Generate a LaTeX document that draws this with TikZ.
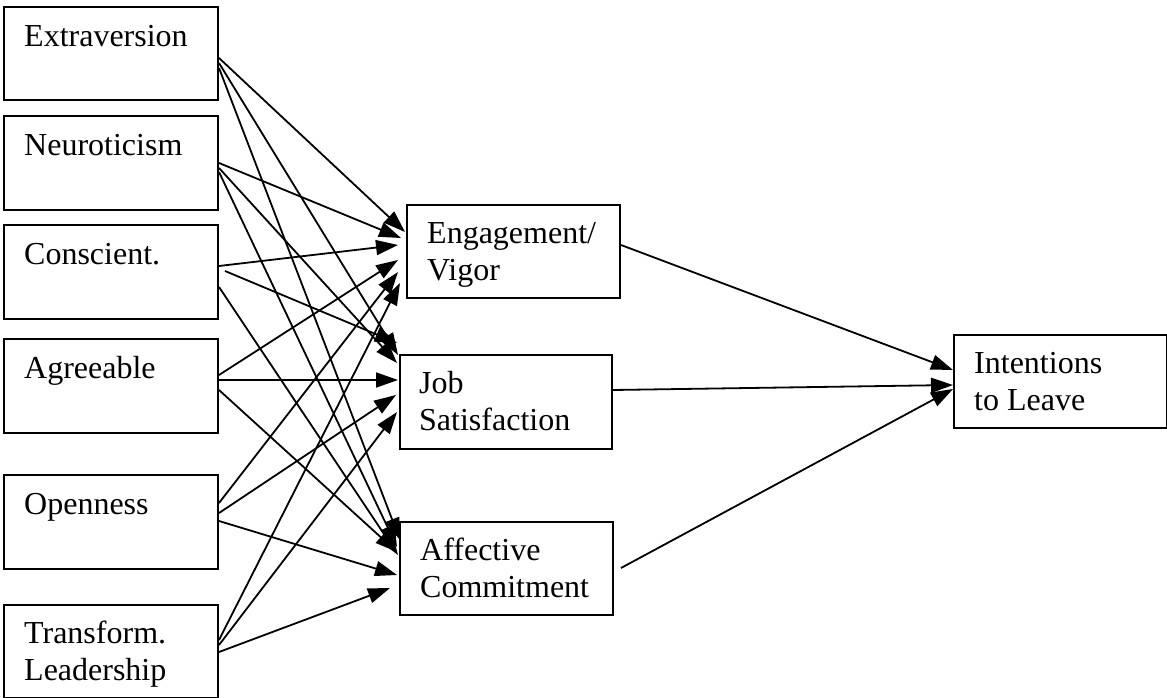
\documentclass[tikz,border=0pt]{standalone}
\usepackage{fontspec}
\setmainfont{Liberation Serif}
\usetikzlibrary{arrows.meta}
\begin{document}
\begin{tikzpicture}[x=1pt,y=-1pt,
  box/.style={draw, line width=2pt, anchor=north west, inner sep=0pt,
              minimum width=214pt, minimum height=93pt},
  lbl/.style={anchor=base west, inner sep=0pt, align=left,
              font=\fontsize{32}{37}\selectfont},
  arr/.style={line width=1.8pt, -{Triangle[length=22pt,width=15pt]}}]
\useasboundingbox (0,0) rectangle (1167,698);

% predictor boxes
\node[box] (ext) at (3,6) {};
\node[box, minimum height=94pt] (neu) at (3,115) {};
\node[box, minimum height=94pt] (con) at (3,224) {};
\node[box, minimum height=94pt] (agr) at (3,338) {};
\node[box, minimum height=94pt] (ope) at (3,474) {};
\node[box] (tra) at (3,604) {};

% mediator and outcome boxes
\node[box, minimum width=213pt] (eng) at (406,204) {};
\node[box, minimum width=212pt, minimum height=94pt] (job) at (399,354) {};
\node[box, minimum width=213pt] (aff) at (399,521) {};
\node[box, minimum width=213pt] (int) at (953,334) {};

% labels (the base of a two-line label is its second line)
\node[lbl] (extT) at ([xshift=21pt,yshift=-41pt]ext.north west) {Extraversion};
\node[lbl] (neuT) at ([xshift=21pt,yshift=-40pt]neu.north west) {Neuroticism};
\node[lbl] (conT) at ([xshift=21pt,yshift=-40pt]con.north west) {Conscient.};
\node[lbl] (agrT) at ([xshift=21pt,yshift=-40pt]agr.north west) {Agreeable};
\node[lbl] (opeT) at ([xshift=21pt,yshift=-40pt]ope.north west) {Openness};
\node[lbl] (traT) at ([xshift=21pt,yshift=-76pt]tra.north west) {Transform.\\Leadership};
\node[lbl] (engT) at ([xshift=21pt,yshift=-76pt]eng.north west) {Engagement/\\Vigor};
\node[lbl] (jobT) at ([xshift=20pt,yshift=-76pt]job.north west) {Job\\Satisfaction};
\node[lbl] (affT) at ([xshift=21pt,yshift=-76pt]aff.north west) {Affective\\Commitment};
\node[lbl] (intT) at ([xshift=21pt,yshift=-76pt]int.north west) {Intentions\\to Leave};

% paths to Engagement/Vigor
\draw[arr] ([yshift=-52pt]ext.north east) -- ([xshift=-1pt,yshift=-28pt]eng.north west);
\draw[arr] ([yshift=-48pt]neu.north east) -- ([xshift=-5pt,yshift=-34pt]eng.north west);
\draw[arr] ([yshift=-42pt]con.north east) -- ([xshift=-8pt,yshift=-41pt]eng.north west);
\draw[arr] ([yshift=-37pt]agr.north east) -- ([xshift=-8pt,yshift=-56pt]eng.north west);
\draw[arr] ([yshift=-29pt]ope.north east) -- ([xshift=-8pt,yshift=-68pt]eng.north west);
\draw[arr] ([yshift=-36pt]tra.north east) -- ([xshift=-6pt,yshift=-79pt]eng.north west);

% paths to Job Satisfaction
\draw[arr] ([yshift=-57pt]ext.north east) -- ([xshift=-1pt,yshift=-1pt]job.north west);
\draw[arr] ([yshift=-53pt]neu.north east) -- ([xshift=-2pt,yshift=-9pt]job.north west);
\draw[arr] ([xshift=6pt,yshift=-47pt]con.north east) -- ([xshift=-2pt,yshift=11pt]job.north west);
\draw[arr] ([yshift=-42pt]agr.north east) -- ([xshift=-1pt,yshift=-26pt]job.north west);
\draw[arr] ([yshift=-39pt]ope.north east) -- ([xshift=-3pt,yshift=-41pt]job.north west);
\draw[arr] ([yshift=-41pt]tra.north east) -- ([xshift=-2pt,yshift=-58pt]job.north west);

% paths to Affective Commitment
\draw[arr] ([yshift=-62pt]ext.north east) -- ([xshift=1pt,yshift=-19pt]aff.north west);
\draw[arr] ([yshift=-57pt]neu.north east) -- ([xshift=-2pt,yshift=-26pt]aff.north west);
\draw[arr] ([yshift=-63pt]con.north east) -- ([xshift=-1pt,yshift=-34pt]aff.north west);
\draw[arr] ([yshift=-52pt]agr.north east) -- ([xshift=-2pt,yshift=-31pt]aff.north west);
\draw[arr] ([yshift=-47pt]ope.north east) -- ([xshift=-2pt,yshift=-54pt]aff.north west);
\draw[arr] ([yshift=-48pt]tra.north east) -- ([xshift=-9pt,yshift=-67pt]aff.north west);

% paths to Intentions to Leave
\draw[arr] ([yshift=-41pt]eng.north east) -- ([yshift=-36pt]int.north west);
\draw[arr] ([yshift=-36pt]job.north east) -- ([yshift=-51pt]int.north west);
\draw[arr] ([xshift=7pt,yshift=-47pt]aff.north east) -- ([yshift=-55pt]int.north west);
\end{tikzpicture}
\end{document}
